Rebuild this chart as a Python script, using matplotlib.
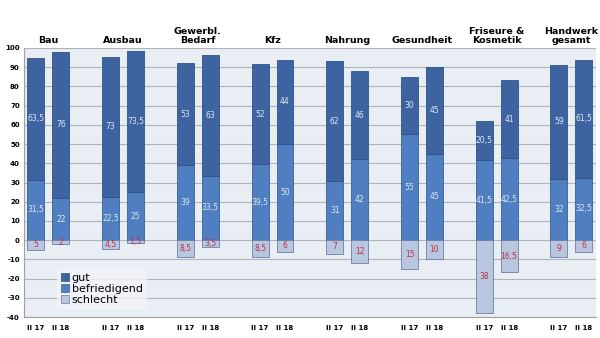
import matplotlib
matplotlib.use("Agg")
import matplotlib.pyplot as plt
import numpy as np

categories = ["Bau", "Ausbau", "Gewerbl.\nBedarf", "Kfz", "Nahrung", "Gesundheit",
              "Friseure &\nKosmetik", "Handwerk\ngesamt"]
periods = ["II 17", "II 18"]
gut_17 = [63.5, 73, 53, 52, 62, 30, 20.5, 59]
gut_18 = [76, 73.5, 63, 44, 46, 45, 41, 61.5]
bef_17 = [31.5, 22.5, 39, 39.5, 31, 55, 41.5, 32]
bef_18 = [22, 25, 33.5, 50, 42, 45, 42.5, 32.5]
schl_17 = [5, 4.5, 8.5, 8.5, 7, 15, 38, 9]
schl_18 = [2, 1.5, 3.5, 6, 12, 10, 16.5, 6]

c_gut = "#3d64a1"
c_bef = "#4f7fc1"
c_schl = "#b8c6df"
bg = "#e9edf4"

def fmt(v):
    s = ("%g" % v)
    return s.replace(".", ",")

fig = plt.figure(figsize=(6, 3.38), dpi=100)
ax = fig.add_axes([0.04, 0.062, 0.953, 0.796])
ax.set_facecolor(bg)

n = len(categories)
w = 0.68
xs, labels = [], []
for i in range(n):
    for j, (g, b, s) in enumerate([(gut_17, bef_17, schl_17), (gut_18, bef_18, schl_18)]):
        x = i * 3 + j
        xs.append(x)
        labels.append(periods[j])
        ax.bar(x, b[i], w, bottom=0, color=c_bef, edgecolor="#3a5f95", linewidth=0.6, zorder=3)
        ax.bar(x, g[i], w, bottom=b[i], color=c_gut, edgecolor="#2f5288", linewidth=0.6, zorder=3)
        ax.bar(x, -s[i], w, bottom=0, color=c_schl, edgecolor="#6d7fa3", linewidth=0.6, zorder=3)
        ax.text(x, b[i] + g[i] / 2, fmt(g[i]), ha="center", va="center", color="#dde6f3", fontsize=5.5, zorder=4)
        ax.text(x, b[i] / 2, fmt(b[i]), ha="center", va="center", color="#dde6f3", fontsize=5.5, zorder=4)
        ax.text(x, -s[i] / 2, fmt(s[i]), ha="center", va="center", color="#c0304a", fontsize=5.5, zorder=4)
    ax.text(i * 3 + 0.5, 101.5, categories[i], ha="center", va="bottom", fontsize=6.8,
            fontweight="bold", linespacing=1.0)

ax.set_xlim(-0.48, 22.48)
ax.set_ylim(-40, 100)
ax.set_yticks(np.arange(-40, 101, 10))
ax.set_yticklabels([str(v) for v in range(-40, 101, 10)], fontsize=5, fontweight="bold")
ax.set_xticks(xs)
ax.set_xticklabels(labels, fontsize=5, fontweight="bold")
ax.tick_params(axis="both", length=0, pad=3)
ax.tick_params(axis="x", pad=6)
ax.yaxis.grid(True, color="#b0b3b8", linewidth=0.8, zorder=0)
for sp in ["top", "right"]:
    ax.spines[sp].set_visible(False)
for sp in ["left", "bottom"]:
    ax.spines[sp].set_color("#a0a0a0")
    ax.spines[sp].set_linewidth(0.8)

from matplotlib.patches import Patch
handles = [Patch(facecolor=c_gut, edgecolor="#2f5288", linewidth=0.5),
           Patch(facecolor=c_bef, edgecolor="#3a5f95", linewidth=0.5),
           Patch(facecolor=c_schl, edgecolor="#6d7fa3", linewidth=0.5)]
leg = ax.legend(handles, ["gut", "befriedigend", "schlecht"], loc="upper left",
                bbox_to_anchor=(0.058, 0.18), fontsize=8, frameon=True, fancybox=False,
                handlelength=0.7, handleheight=0.7, handletextpad=0.25, labelspacing=0.1,
                borderpad=0.35, borderaxespad=0)
leg.get_frame().set_facecolor("#f2f4f8")
leg.get_frame().set_edgecolor("#f2f4f8")
leg.set_zorder(5)

fig.savefig("out.png", dpi=100)
